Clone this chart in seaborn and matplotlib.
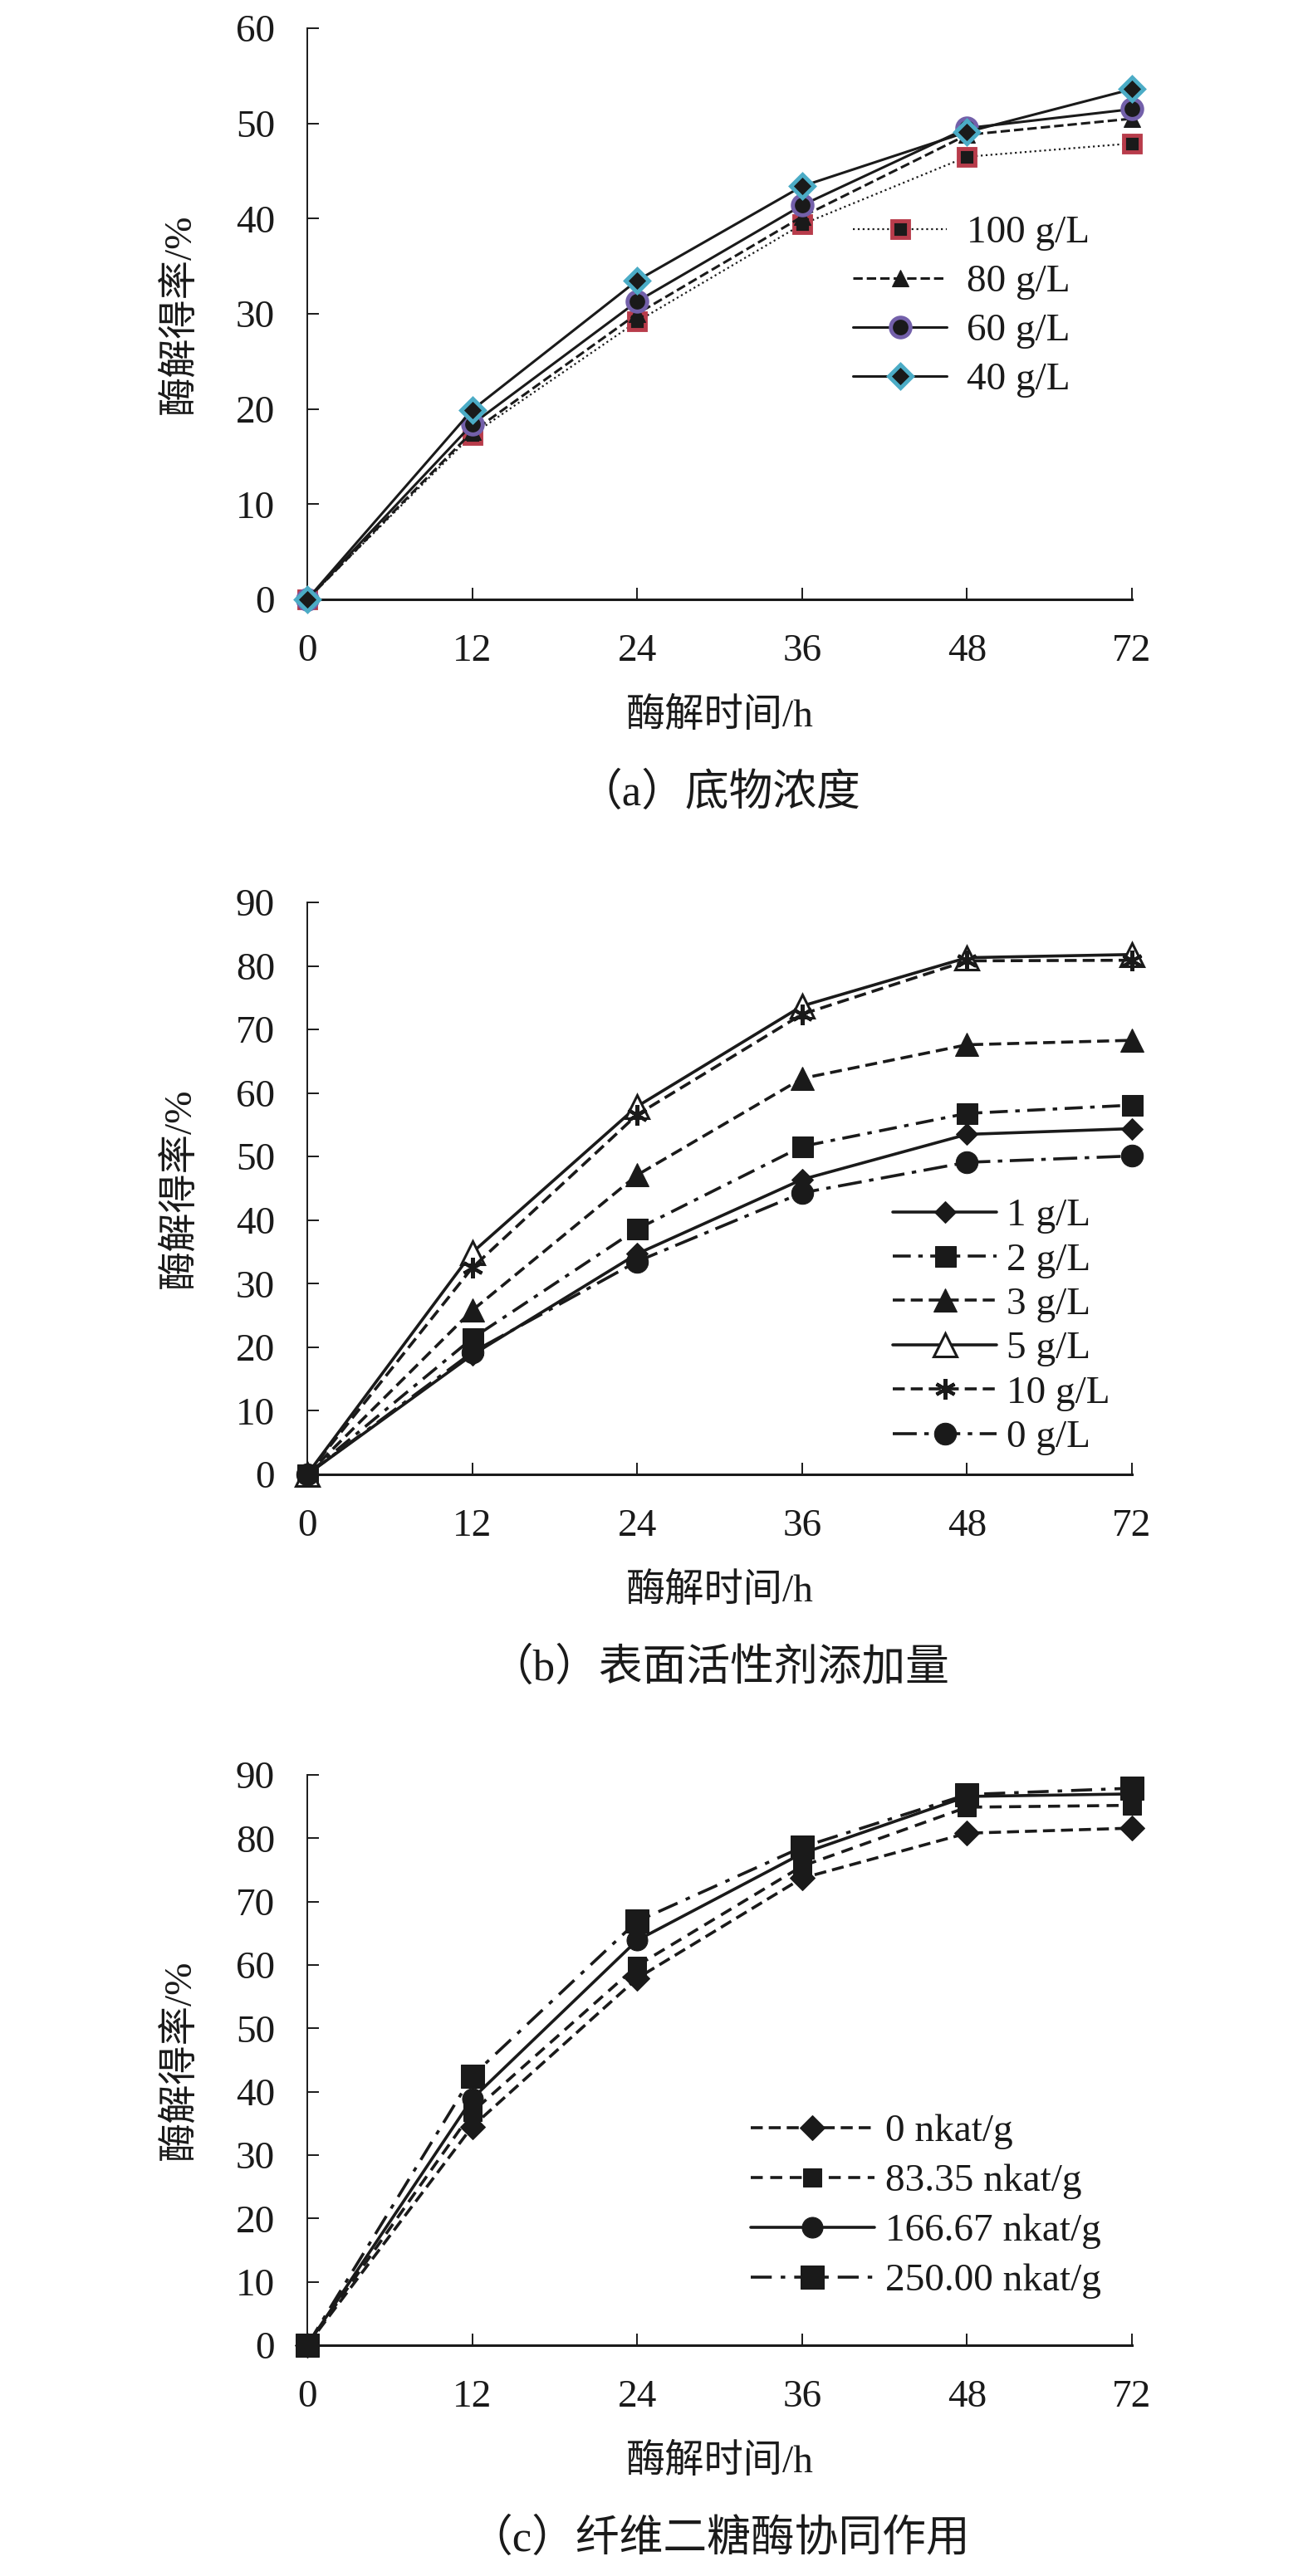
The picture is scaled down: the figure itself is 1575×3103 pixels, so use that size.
import numpy as np
import pandas as pd
import seaborn as sns
import matplotlib.pyplot as plt

# hours (equally spaced category axis, like the original Excel chart)
hours = ['0', '12', '24', '36', '48', '72']

# (a) substrate concentration
sub_labels = ['100 g/L', '80 g/L', '60 g/L', '40 g/L']
sub_100 = [0, 17.3, 29.2, 39.4, 46.5, 47.9]
sub_80 = [0, 17.6, 30.0, 40.2, 48.8, 50.5]
sub_60 = [0, 18.4, 31.3, 41.4, 49.5, 51.5]
sub_40 = [0, 19.9, 33.5, 43.4, 49.1, 53.6]

# (b) surfactant dosage
surf_labels = ['1 g/L', '2 g/L', '3 g/L', '5 g/L', '10 g/L', '0 g/L']
surf_1 = [0, 18.8, 34.7, 46.4, 53.5, 54.4]
surf_2 = [0, 21.4, 38.6, 51.6, 56.8, 58.1]
surf_3 = [0, 25.8, 47.1, 62.3, 67.6, 68.3]
surf_5 = [0, 34.9, 57.9, 73.7, 81.3, 81.8]
surf_10 = [0, 32.5, 56.6, 72.4, 80.8, 80.9]
surf_0 = [0, 19.2, 33.5, 44.3, 49.1, 50.1]

# (c) cellobiase synergy
cel_labels = ['0 nkat/g', '83.35 nkat/g', '166.67 nkat/g', '250.00 nkat/g']
cel_0 = [0, 34.5, 57.9, 73.7, 80.8, 81.6]
cel_83 = [0, 36.8, 59.9, 75.6, 84.9, 85.2]
cel_166 = [0, 38.9, 63.9, 77.6, 86.6, 87.0]
cel_250 = [0, 42.5, 66.9, 78.6, 86.9, 87.9]

W, H = 1575, 3103
sns.set_theme(style='ticks')
plt.rcParams['font.family'] = ['Liberation Serif', 'Noto Sans CJK SC']
plt.rcParams['axes.unicode_minus'] = False

fig = plt.figure(figsize=(W / 100, H / 100), dpi=100)

ax_left, ax_right = 370, 1363
# (top px, bottom px) of each plot area
boxes = [(34, 722), (1087, 1776), (2138, 2825)]

tick_fs = 34
label_fs = 34
cap_fs = 38


def make_axes(top, bottom):
    ax = fig.add_axes([ax_left / W, 1 - bottom / H,
                       (ax_right - ax_left) / W, (bottom - top) / H])
    return ax


def draw_series(ax, values, label, **kw):
    df = pd.DataFrame({'x': np.arange(len(hours)), 'y': values})
    sns.lineplot(data=df, x='x', y='y', ax=ax, label=label,
                 clip_on=False, zorder=3, **kw)


def style_axes(ax, ymax, top, bottom, xlabel_txt, caption):
    ax.set_xlim(0, len(hours) - 1)
    ax.set_ylim(0, ymax)
    ax.set_xticks(np.arange(len(hours)))
    ax.set_xticklabels(hours)
    ax.set_yticks(np.arange(0, ymax + 1, 10))
    ax.set_xlabel('')
    ax.set_ylabel('')
    for s in ['top', 'right']:
        ax.spines[s].set_visible(False)
    ax.spines['bottom'].set_linewidth(2.2)
    ax.spines['left'].set_linewidth(1.4)
    ax.spines['bottom'].set_color('#1a1a1a')
    ax.spines['left'].set_color('#1a1a1a')
    ax.tick_params(axis='x', direction='in', length=10, width=1.4,
                   pad=30, labelsize=tick_fs, colors='#1a1a1a')
    ax.tick_params(axis='y', direction='in', length=10, width=1.4,
                   pad=28, labelsize=tick_fs, colors='#1a1a1a')
    cx = (ax_left + ax_right) / 2 / W
    fig.text(217 / W, 1 - (top + bottom) / 2 / H, '酶解得率/%',
             rotation=90, ha='center', va='center', fontsize=label_fs,
             color='#1a1a1a')
    fig.text(cx, 1 - (bottom + 141) / H, xlabel_txt, ha='center',
             va='center', fontsize=label_fs, color='#1a1a1a')
    fig.text(cx, 1 - (bottom + 234) / H, caption, ha='center',
             va='center', fontsize=cap_fs, color='#1a1a1a')


def add_legend(ax, x_px, y_px, hl, htp, ls):
    ax.legend(loc='upper left', bbox_to_anchor=(x_px / W, 1 - y_px / H),
              bbox_transform=fig.transFigure, frameon=False,
              fontsize=tick_fs, handlelength=hl, handletextpad=htp,
              labelspacing=ls, borderpad=0, borderaxespad=0,
              labelcolor='#1a1a1a')


k = '#1a1a1a'

# ---- (a)
ax = make_axes(*boxes[0])
draw_series(ax, sub_100, sub_labels[0], color=k, linestyle=':', linewidth=1.6,
            marker='s', markersize=15, markerfacecolor=k,
            markeredgecolor='#b83c4b', markeredgewidth=3.5)
draw_series(ax, sub_80, sub_labels[1], color=k, linestyle='--', linewidth=2.2,
            marker='^', markersize=15, markerfacecolor=k, markeredgecolor=k)
draw_series(ax, sub_60, sub_labels[2], color=k, linestyle='-', linewidth=2.2,
            marker='o', markersize=17, markerfacecolor=k,
            markeredgecolor='#7360aa', markeredgewidth=3.5)
draw_series(ax, sub_40, sub_labels[3], color=k, linestyle='-', linewidth=2.2,
            marker='D', markersize=14, markerfacecolor=k,
            markeredgecolor='#4bacc6', markeredgewidth=3.5)
style_axes(ax, 60, *boxes[0], '酶解时间/h', '（a）底物浓度')
add_legend(ax, 1027, 259, 2.4, 0.5, 0.34)

# ---- (b)
ax = make_axes(*boxes[1])
draw_series(ax, surf_1, surf_labels[0], color=k, linestyle='-', linewidth=2.6,
            marker='D', markersize=13, markerfacecolor=k, markeredgecolor=k)
draw_series(ax, surf_2, surf_labels[1], color=k, linestyle=(0, (6, 2.5, 1.5, 2.5)),
            linewidth=2.6, marker='s', markersize=18, markerfacecolor=k,
            markeredgecolor=k)
draw_series(ax, surf_3, surf_labels[2], color=k, linestyle=(0, (4, 2)),
            linewidth=2.6, marker='^', markersize=20, markerfacecolor=k,
            markeredgecolor=k)
draw_series(ax, surf_5, surf_labels[3], color=k, linestyle='-', linewidth=2.6,
            marker='^', markersize=20, markerfacecolor='white',
            markeredgecolor=k, markeredgewidth=2.2)
draw_series(ax, surf_10, surf_labels[4], color=k, linestyle=(0, (4, 2)),
            linewidth=2.6, marker=(6, 2, 0), markersize=18, markeredgecolor=k,
            markeredgewidth=3)
draw_series(ax, surf_0, surf_labels[5], color=k, linestyle=(0, (8, 2.5, 1.5, 2.5)),
            linewidth=2.6, marker='o', markersize=19, markerfacecolor=k,
            markeredgecolor=k)
style_axes(ax, 90, *boxes[1], '酶解时间/h', '（b）表面活性剂添加量')
add_legend(ax, 1075, 1443, 2.65, 0.25, 0.22)

# ---- (c)
ax = make_axes(*boxes[2])
draw_series(ax, cel_0, cel_labels[0], color=k, linestyle=(0, (4, 2)),
            linewidth=2.6, marker='D', markersize=15, markerfacecolor=k,
            markeredgecolor=k)
draw_series(ax, cel_83, cel_labels[1], color=k, linestyle=(0, (4, 2.5)),
            linewidth=2.6, marker='s', markersize=16, markerfacecolor=k,
            markeredgecolor=k)
draw_series(ax, cel_166, cel_labels[2], color=k, linestyle='-', linewidth=2.6,
            marker='o', markersize=18, markerfacecolor=k, markeredgecolor=k)
draw_series(ax, cel_250, cel_labels[3], color=k, linestyle=(0, (7, 3, 1.5, 3)),
            linewidth=2.6, marker='s', markersize=20, markerfacecolor=k,
            markeredgecolor=k)
style_axes(ax, 90, *boxes[2], '酶解时间/h', '（c）纤维二糖酶协同作用')
add_legend(ax, 904, 2546, 3.15, 0.28, 0.36)

fig.savefig('out.png', dpi=100, facecolor='white')
